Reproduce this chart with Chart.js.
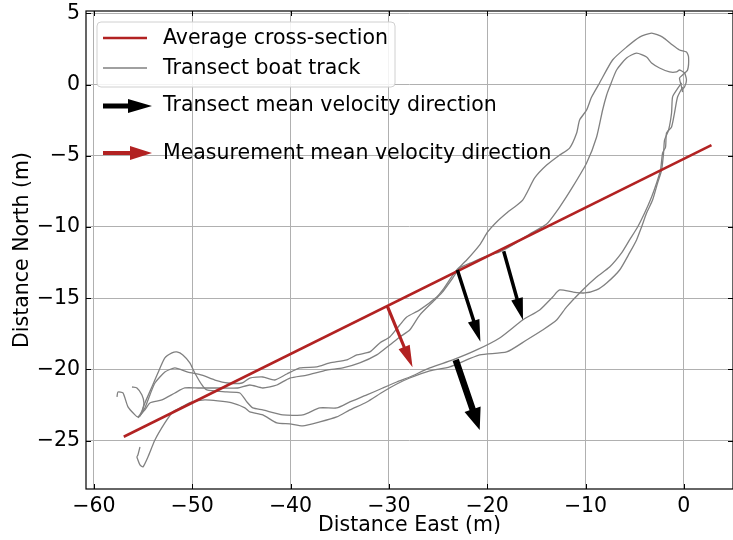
<!DOCTYPE html>
<html>
<head>
<meta charset="utf-8">
<script src="https://cdn.jsdelivr.net/npm/chart.js@4"></script>
<style>
  html, body { margin: 0; padding: 0; background: #fff; }
</style>
</head>
<body>
<canvas id="chart" width="733" height="540"></canvas>
<script>
// average cross-section
const crossX = [-56.96, 2.81];
const crossY = [-24.72, -4.25];

// boat tracks (m east, m north)
const trackAx = [-57.65, -57.55, -57.04, -56.53, -55.82, -55.52, -55.11, -54.81, -54.1, -53.49, -52.78, -52.06, -51.56, -50.95, -50.24, -49.73, -49.01, -48.51, -46.48, -45.15, -44.44, -43.83, -42.82, -40.78, -38.75, -37.02, -35.3, -33.97, -32.24, -30.62, -29.2, -27.88, -25.84, -23.5, -21.07, -18.73, -16.39, -14.66, -13.34, -12.63, -11.31, -10.09, -8.87, -7.85, -6.53, -5.52, -4.81, -4.3, -3.79, -3.18, -2.67, -2.26, -2.06, -1.96, -1.55, -1.25, -1.15, -0.74, -0.23];
const trackAy = [-21.93, -21.58, -21.65, -22.63, -23.19, -23.33, -22.91, -22.35, -21.23, -20.25, -19.19, -18.84, -18.77, -18.98, -19.54, -20.25, -21.09, -21.44, -21.58, -21.65, -22.28, -22.7, -22.84, -23.19, -23.19, -22.7, -22.7, -22.28, -21.79, -21.3, -20.88, -20.53, -19.89, -19.33, -18.63, -17.79, -16.53, -15.82, -14.91, -14.42, -14.56, -14.63, -14.42, -13.93, -13.02, -11.82, -10.91, -10.0, -9.02, -8.11, -6.91, -6.0, -4.8, -3.89, -3.19, -2.0, -0.88, -0.39, 0.11];

const trackBx = [-56.12, -55.62, -55.11, -54.91, -55.11, -55.31, -54.81, -54.3, -53.79, -52.78, -51.76, -50.44, -49.01, -47.69, -46.37, -44.94, -44.14, -42.82, -41.6, -40.38, -39.05, -37.33, -36.0, -34.27, -33.26, -31.94, -30.92, -29.91, -28.89, -28.18, -26.86, -25.13, -24.52, -23.5, -23.1, -22.08, -20.76, -19.95, -19.04, -18.02, -16.39, -15.17, -13.95, -12.63, -11.62, -10.9, -10.6, -9.89, -9.38, -8.57, -7.25, -5.82, -4.5, -3.28, -2.16, -1.15, -0.44, 0.27, 0.48, 0.38, -0.13, -0.44, -0.23, -0.13];
const trackBy = [-21.23, -21.3, -21.79, -22.35, -22.98, -23.26, -22.7, -21.79, -20.95, -20.18, -19.89, -20.18, -20.39, -20.74, -20.95, -20.95, -20.6, -20.53, -20.74, -20.32, -19.89, -19.82, -19.54, -19.33, -18.98, -18.77, -18.14, -17.72, -16.88, -16.32, -15.82, -14.91, -14.42, -13.37, -13.02, -12.32, -11.26, -10.35, -9.65, -9.02, -8.11, -6.56, -5.65, -4.95, -4.46, -3.4, -2.49, -1.79, -0.88, 0.11, 1.72, 2.63, 3.33, 3.61, 3.33, 2.77, 2.42, 2.28, 1.93, 1.02, 0.67, 0.46, -0.18, -0.53];

const trackCx = [-55.52, -54.81, -54.3, -53.08, -51.76, -50.75, -49.43, -48.0, -46.68, -45.36, -44.14, -42.82, -41.39, -40.07, -38.34, -36.31, -34.68, -32.96, -31.23, -29.91, -28.89, -27.88, -26.86, -25.54, -24.62, -23.5, -22.79, -21.47, -20.05, -18.73, -17.41, -15.68, -13.95, -12.63, -11.31, -9.89, -8.87, -8.26, -7.85, -7.55, -6.84, -5.82, -4.81, -3.79, -3.28, -2.47, -1.45, -0.74, -0.44, 0.07, 0.27, 0.07, -0.23];
const trackCy = [-23.4, -22.84, -22.35, -22.14, -21.65, -21.3, -21.3, -21.3, -21.3, -21.3, -21.09, -21.3, -21.09, -20.6, -20.39, -20.04, -19.89, -19.54, -18.98, -18.28, -17.72, -17.23, -16.18, -15.26, -14.63, -13.58, -12.88, -12.46, -12.04, -11.75, -11.26, -10.49, -9.79, -8.6, -7.19, -5.51, -3.68, -1.79, -0.74, -0.18, 1.02, 1.86, 2.21, 1.93, 1.51, 1.16, 0.88, 0.88, 1.02, 0.81, 0.32, -0.18, -0.39];

const trackDx = [-55.31, -55.52, -55.62, -55.52, -55.31, -55.01, -54.5, -53.79, -52.78, -51.97, -51.05, -50.03, -48.71, -47.39, -45.96, -44.64, -44.14, -42.82, -41.39, -40.07, -38.75, -37.02, -35.3, -33.97, -32.24, -30.62, -29.2, -27.88, -25.84, -23.81, -20.76, -18.02, -15.99, -14.36, -12.94, -11.92, -10.29, -8.87, -7.55, -6.33, -5.52, -4.7, -3.99, -3.28, -2.77, -2.37, -2.16, -1.86, -1.76, -1.25, -0.95, -0.64, -0.13];
const trackDy = [-25.44, -26.0, -26.14, -26.35, -26.7, -26.84, -26.14, -24.95, -23.75, -22.98, -22.63, -22.28, -22.14, -22.21, -22.35, -22.7, -22.98, -23.19, -23.75, -23.82, -23.96, -23.68, -23.33, -22.84, -22.28, -21.58, -21.02, -20.6, -20.1, -19.82, -18.98, -18.77, -17.93, -17.23, -16.53, -15.61, -14.42, -13.51, -12.81, -11.82, -10.91, -10.0, -9.02, -7.89, -6.91, -6.0, -4.8, -4.39, -3.4, -2.98, -2.0, -0.88, -0.18];

// mean velocity arrows (start -> tip, m)
const transArrowX0 = [-23.03, -18.32, -23.2];
const transArrowY0 = [-13.02, -11.7, -19.33];
const transArrowX1 = [-20.69, -16.36, -20.76];
const transArrowY1 = [-18.05, -16.53, -24.25];
const measArrowX0 = [-30.17];
const measArrowY0 = [-15.54];
const measArrowX1 = [-27.59];
const measArrowY1 = [-19.85];

const xTickValues = [-60, -50, -40, -30, -20, -10, 0];
const yTickValues = [-25, -20, -15, -10, -5, 0, 5];

const legendLabels = ['Average cross-section', 'Transect boat track',
  'Transect mean velocity direction', 'Measurement mean velocity direction'];

const RED = '#b22222';
const GRAY = '#808080';
const FONT = 'DejaVu Sans';

const zip = (xs, ys) => xs.map((x, i) => ({ x: x, y: ys[i] }));
const trackStyle = { showLine: true, pointRadius: 0, borderColor: GRAY, borderWidth: 1.3, fill: false, tension: 0.2 };

function drawArrow(ctx, x0, y0, x1, y1, w, hw, hl, color) {
  const dx = x1 - x0, dy = y1 - y0, L = Math.hypot(dx, dy);
  const ux = dx / L, uy = dy / L, nx = -uy, ny = ux;
  const bx = x1 - ux * hl, by = y1 - uy * hl;
  ctx.beginPath();
  ctx.moveTo(x0 + nx * w / 2, y0 + ny * w / 2);
  ctx.lineTo(bx + nx * w / 2, by + ny * w / 2);
  ctx.lineTo(bx + nx * hw / 2, by + ny * hw / 2);
  ctx.lineTo(x1, y1);
  ctx.lineTo(bx - nx * hw / 2, by - ny * hw / 2);
  ctx.lineTo(bx - nx * w / 2, by - ny * w / 2);
  ctx.lineTo(x0 - nx * w / 2, y0 - ny * w / 2);
  ctx.closePath();
  ctx.fillStyle = color;
  ctx.fill();
}

const arrowPlugin = {
  id: 'arrows',
  afterDatasetsDraw(chart) {
    const ctx = chart.ctx, xs = chart.scales.x, ys = chart.scales.y;
    const shaft = [3.5, 3.5, 6.5], head = [12, 12, 17];
    ctx.save();
    transArrowX0.forEach((v, i) => {
      drawArrow(ctx, xs.getPixelForValue(v), ys.getPixelForValue(transArrowY0[i]),
        xs.getPixelForValue(transArrowX1[i]), ys.getPixelForValue(transArrowY1[i]),
        shaft[i], head[i], 22, '#000');
    });
    measArrowX0.forEach((v, i) => {
      drawArrow(ctx, xs.getPixelForValue(v), ys.getPixelForValue(measArrowY0[i]),
        xs.getPixelForValue(measArrowX1[i]), ys.getPixelForValue(measArrowY1[i]),
        3.2, 12, 22, RED);
    });
    ctx.restore();
  },
  afterDraw(chart) {
    const ctx = chart.ctx, a = chart.chartArea;
    const xs = chart.scales.x, ys = chart.scales.y;
    ctx.save();
    // inward ticks
    ctx.strokeStyle = '#000';
    ctx.lineWidth = 1;
    ctx.beginPath();
    xTickValues.forEach(v => {
      const p = Math.round(xs.getPixelForValue(v)) + 0.5;
      ctx.moveTo(p, a.bottom); ctx.lineTo(p, a.bottom - 5);
      ctx.moveTo(p, a.top); ctx.lineTo(p, a.top + 5);
    });
    yTickValues.forEach(v => {
      const p = Math.round(ys.getPixelForValue(v)) + 0.5;
      ctx.moveTo(a.left, p); ctx.lineTo(a.left + 5, p);
      ctx.moveTo(a.right, p); ctx.lineTo(a.right - 5, p);
    });
    ctx.stroke();
    // spines
    ctx.lineWidth = 1.2;
    ctx.strokeRect(a.left, a.top, a.right - a.left, a.bottom - a.top);

    // legend
    ctx.beginPath();
    ctx.roundRect(97, 22, 298, 65, 4);
    ctx.fillStyle = 'rgba(255,255,255,0.85)';
    ctx.fill();
    ctx.strokeStyle = '#d0d0d0';
    ctx.lineWidth = 1;
    ctx.stroke();

    ctx.lineCap = 'butt';
    ctx.strokeStyle = RED; ctx.lineWidth = 2.6;
    ctx.beginPath(); ctx.moveTo(103, 38); ctx.lineTo(147, 38); ctx.stroke();
    ctx.strokeStyle = GRAY; ctx.lineWidth = 1.3;
    ctx.beginPath(); ctx.moveTo(103, 68); ctx.lineTo(147, 68); ctx.stroke();
    drawArrow(ctx, 103, 106, 152, 106, 5, 14, 24, '#000');
    drawArrow(ctx, 103, 153, 152, 153, 4, 14, 22, RED);

    ctx.fillStyle = '#000';
    ctx.font = '20.5px "' + FONT + '"';
    ctx.textBaseline = 'middle';
    ctx.textAlign = 'left';
    const ly = [39, 69, 106, 154];
    legendLabels.forEach((t, i) => ctx.fillText(t, 163, ly[i]));
    ctx.restore();
  }
};

new Chart(document.getElementById('chart'), {
  type: 'scatter',
  data: {
    datasets: [
      { label: legendLabels[0], data: zip(crossX, crossY), showLine: true, pointRadius: 0, borderColor: RED, borderWidth: 2.6, fill: false },
      Object.assign({ label: legendLabels[1], data: zip(trackAx, trackAy) }, trackStyle),
      Object.assign({ label: 'track B', data: zip(trackBx, trackBy) }, trackStyle),
      Object.assign({ label: 'track C', data: zip(trackCx, trackCy) }, trackStyle),
      Object.assign({ label: 'track D', data: zip(trackDx, trackDy) }, trackStyle)
    ]
  },
  options: {
    responsive: false,
    animation: false,
    layout: { padding: { left: 0, top: 11, right: 0, bottom: 0 } },
    plugins: { legend: { display: false }, tooltip: { enabled: false } },
    scales: {
      x: {
        type: 'linear', min: -60.8, max: 5.0,
        afterBuildTicks: s => { s.ticks = xTickValues.map(v => ({ value: v })); },
        afterFit: s => { s.height = 51; s.paddingLeft = 0; s.paddingRight = 0; },
        grid: { color: '#b0b0b0', lineWidth: 1, drawTicks: false },
        border: { display: false },
        ticks: {
          padding: 7, color: '#000', font: { family: FONT, size: 20.5, lineHeight: 1.0 },
          maxRotation: 0,
          callback: v => String(v).replace('-', '\u2212')
        },
        title: { display: true, text: 'Distance East (m)', color: '#000', font: { family: FONT, size: 20.5 }, padding: { top: 0, bottom: 2 } }
      },
      y: {
        type: 'linear', min: -28.39, max: 5.16,
        afterBuildTicks: s => { s.ticks = yTickValues.map(v => ({ value: v })); },
        afterFit: s => { s.width = 86; s.paddingTop = 0; s.paddingBottom = 0; },
        grid: { color: '#b0b0b0', lineWidth: 1, drawTicks: false },
        border: { display: false },
        ticks: {
          padding: 6, color: '#000', font: { family: FONT, size: 20.5, lineHeight: 1.0 },
          callback: v => String(v).replace('-', '\u2212')
        },
        title: { display: true, text: 'Distance North (m)', color: '#000', font: { family: FONT, size: 20.5 }, padding: { top: 10, bottom: 0 } }
      }
    }
  },
  plugins: [arrowPlugin]
});
</script>
</body>
</html>
